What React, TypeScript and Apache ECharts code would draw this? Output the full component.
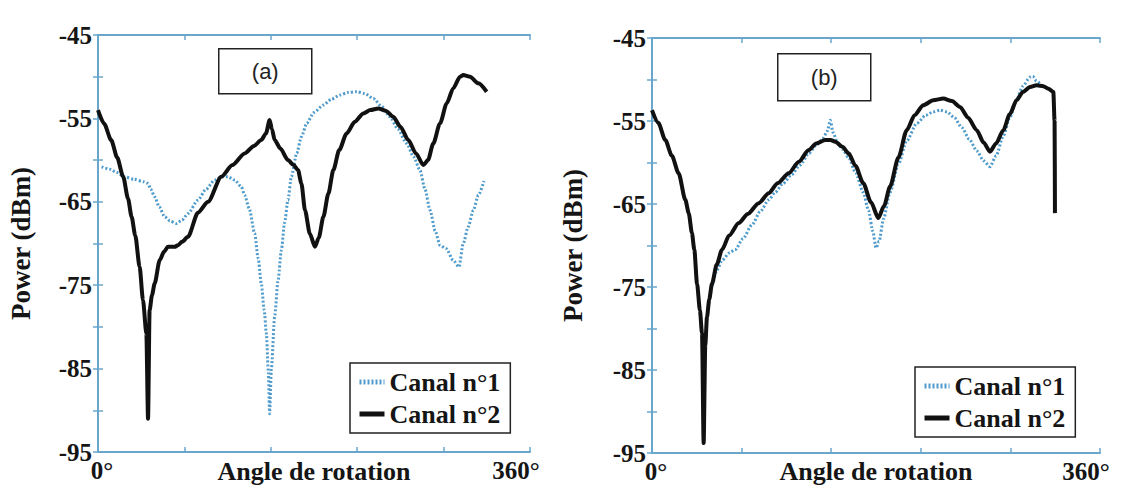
import React, { useEffect, useRef } from "react";
import * as echarts from "echarts";

// ---------- data ----------
const SERIES_NAMES = ["Canal n°1", "Canal n°2"];
const Y_TICKS_LABELLED = [-45, -55, -65, -75, -85, -95];
const X_LABELS = ["0°", "360°"];
const X_AXIS_NAME = "Angle de rotation";
const Y_AXIS_NAME = "Power (dBm)";
const PANEL_TAGS = ["(a)", "(b)"];

// Panel (a) – Canal n°2 (solid)
const aCh2Angle = [0, 5, 11, 16, 21, 25, 28, 31, 34.7, 37.5, 40.3, 41.7, 43, 45, 47.2, 51.4, 55, 58.3, 63.9, 66.7, 70, 75, 83.3, 91.7, 102.8, 112, 122.2, 130, 136, 140, 143, 145, 147.2, 152, 158.3, 163, 166.7, 169.5, 172.5, 176.5, 180.8, 184, 187.8, 192, 196.1, 201, 207.2, 214, 221.1, 227, 233.6, 240, 246.1, 252, 258.6, 265, 271.1, 275, 279.4, 285, 290.6, 296, 301.7, 304.4, 310, 317, 323.9];
const aCh2Power = [-54.0, -55.6, -57.6, -59.7, -62.0, -64.6, -66.8, -69.0, -72.8, -76.8, -80.8, -91.0, -78.0, -76.2, -74.8, -72.0, -71.0, -70.4, -70.4, -70.2, -69.8, -69.2, -66.3, -65.0, -62.0, -60.6, -59.2, -58.3, -57.6, -56.8, -55.2, -56.3, -57.6, -58.6, -60.0, -60.6, -61.2, -62.8, -66.0, -68.8, -70.4, -69.3, -66.8, -64.0, -61.2, -58.8, -56.8, -55.4, -54.4, -54.0, -53.8, -54.1, -54.8, -56.0, -57.6, -59.2, -60.6, -60.0, -58.0, -55.6, -53.2, -51.4, -50.0, -49.8, -50.0, -50.8, -51.8];

// Panel (a) – Canal n°1 (dotted)
const aCh1Angle = [3, 10, 16, 22, 30, 38, 41.7, 44, 47.2, 51, 55.6, 60, 65.3, 70, 75, 83.3, 90, 97.2, 103, 108.3, 114, 119.4, 122.2, 126, 130.6, 133.5, 136.1, 138.5, 140.3, 142, 143, 144.5, 147.2, 150, 152.8, 155.5, 158.3, 161.1, 165.6, 169.5, 173.9, 180, 187.8, 194.5, 201.7, 208, 215.6, 222, 229.4, 236, 243.3, 250, 257.2, 263, 268.3, 272.5, 276.7, 281, 285, 290, 296, 300.8, 304.4, 308.5, 312.8, 317, 321.6];
const aCh1Power = [-60.8, -61.1, -61.5, -62.0, -62.3, -62.6, -62.8, -63.5, -64.4, -65.6, -66.8, -67.3, -67.6, -67.2, -66.4, -64.8, -63.5, -62.4, -62.0, -62.0, -62.4, -63.2, -64.2, -65.8, -68.8, -71.8, -74.8, -78.0, -80.8, -85.5, -90.4, -85.0, -78.8, -74.5, -70.8, -67.5, -64.8, -62.0, -59.2, -57.2, -55.6, -54.3, -53.4, -52.7, -52.2, -51.9, -51.8, -52.0, -52.6, -53.5, -54.8, -56.3, -58.0, -59.6, -61.2, -63.5, -66.0, -68.5, -70.2, -70.6, -72.0, -72.8, -70.0, -68.0, -66.0, -64.2, -62.5];

// Panel (b) – Canal n°2 (solid)
const bCh2Angle = [0, 5, 10.7, 16, 21.4, 26.8, 29.5, 32.1, 34, 36.2, 38.5, 40.2, 41.5, 42.8, 44.2, 46, 48.2, 52, 56.3, 62, 69.7, 77, 85.7, 93.8, 101, 109.8, 118, 125.9, 132, 139.3, 143.5, 147.3, 153, 158, 163.5, 169.8, 176, 181.9, 186.5, 191.3, 198, 204.7, 211, 218, 226, 234.1, 241, 247.5, 254, 260.9, 266.5, 271.6, 276.5, 282.3, 287.5, 293, 298, 303.8, 309, 314.4, 318.5, 322.5, 323.5, 323.8];
const bCh2Power = [-53.7, -55.2, -57.3, -59.2, -61.3, -64.5, -66.1, -68.5, -70.5, -74.6, -77.8, -80.6, -93.8, -82.0, -78.6, -76.5, -74.6, -72.3, -70.5, -68.8, -67.3, -66.2, -64.9, -63.7, -62.5, -61.3, -59.9, -58.5, -57.7, -57.3, -57.3, -57.5, -58.1, -58.9, -60.4, -62.5, -64.8, -66.7, -65.2, -62.9, -59.4, -56.1, -54.3, -53.1, -52.5, -52.3, -52.6, -53.3, -54.6, -56.1, -57.6, -58.7, -57.7, -56.1, -54.2, -52.5, -51.5, -50.9, -50.7, -50.8, -51.1, -51.5, -55.0, -66.1];

// Panel (b) – Canal n°1 (dotted)
const bCh1Angle = [0, 5, 10.7, 16, 21.4, 26.8, 29.5, 32.1, 34, 36.2, 38.5, 40.2, 41.5, 42.8, 44.2, 46, 48.2, 52, 56.3, 62, 66.9, 73, 80.4, 87, 93.8, 99, 105, 112, 119, 126, 132, 137, 141, 143.3, 145.5, 149, 153, 158, 163.5, 169.8, 174, 177.5, 180, 182.5, 186, 191.3, 198, 204.7, 212.7, 220, 226, 231.4, 237, 243, 249, 255, 261, 266.5, 271.6, 276.5, 282.3, 287.5, 293, 298, 303.8, 306, 309, 314.4, 318.5, 322.5, 323.5, 323.8];
const bCh1Power = [-53.7, -55.2, -57.3, -59.2, -61.3, -64.5, -66.1, -68.5, -70.5, -74.6, -77.8, -80.6, -93.8, -82.0, -78.6, -76.6, -74.8, -73.0, -71.8, -70.9, -70.5, -69.2, -67.5, -65.9, -64.5, -63.6, -62.6, -61.5, -60.3, -58.9, -57.9, -57.2, -56.2, -54.9, -56.4, -57.6, -58.4, -59.4, -61.2, -63.6, -65.8, -68.3, -70.3, -69.5, -66.8, -63.6, -60.2, -57.4, -55.3, -54.3, -53.9, -53.7, -53.9, -54.6, -55.8, -57.2, -58.6, -59.8, -60.5, -59.2, -56.8, -54.6, -52.4, -50.8, -49.7, -49.6, -50.2, -50.8, -51.1, -51.5, -55.0, -66.1];

// ---------- styles ----------
const SERIF = '"Liberation Serif", "Times New Roman", serif';
const SANS = '"Liberation Sans", Arial, sans-serif';
const AXIS_COLOR = "#6aa6cc";
const DOT_COLOR = "#4f9bcb";
const SOLID_COLOR = "#111111";
const TEXT_COLOR = "#151515";

const zip = (xs: number[], ys: number[]) => xs.map((x, i) => [x, ys[i]]);

const grids = [
  { left: 98, top: 35, width: 432, height: 417, nameGap: 64 },
  { left: 652, top: 38, width: 448, height: 415, nameGap: 66 },
];

function buildAxes() {
  const xAxis: any[] = [];
  const yAxis: any[] = [];
  grids.forEach((g, gi) => {
    const tick = { show: true, inside: true, length: 5, lineStyle: { color: AXIS_COLOR, width: 1.5 } };
    const line = { show: true, lineStyle: { color: AXIS_COLOR, width: 2 } };
    const xNameGap = 458 - (g.top + g.height);
    xAxis.push({
      type: "value", gridIndex: gi, position: "bottom", min: 0, max: 360, interval: 72,
      axisLine: line, axisTick: tick, splitLine: { show: false },
      axisLabel: {
        show: true, margin: 6, showMinLabel: true, showMaxLabel: true,
        formatter: (v: number) => (v === 0 ? "{z|" + X_LABELS[0] + "}" : v === 360 ? "{m|" + X_LABELS[1] + "}" : ""),
        fontFamily: SERIF, fontWeight: "bold", fontSize: 25, color: TEXT_COLOR,
        rich: {
          z: { fontFamily: SERIF, fontWeight: "bold", fontSize: 25, color: TEXT_COLOR, padding: [0, 0, 0, 8] },
          m: { fontFamily: SERIF, fontWeight: "bold", fontSize: 25, color: TEXT_COLOR, padding: [0, 28, 0, 0] },
        },
      },
      name: X_AXIS_NAME, nameLocation: "middle", nameGap: xNameGap, nameMoveOverlap: false,
      nameTextStyle: { fontFamily: SERIF, fontWeight: "bold", fontSize: 26, color: TEXT_COLOR, verticalAlign: "top", lineHeight: 26 },
    });
    xAxis.push({
      type: "value", gridIndex: gi, position: "top", min: 0, max: 360, interval: 72,
      axisLine: line, axisTick: tick, axisLabel: { show: false }, splitLine: { show: false },
    });
    yAxis.push({
      type: "value", gridIndex: gi, position: "left", min: -95, max: -45, interval: 5,
      axisLine: line, axisTick: tick, splitLine: { show: false },
      axisLabel: {
        show: true, margin: 6,
        formatter: (v: number) => (Y_TICKS_LABELLED.indexOf(v) >= 0 ? String(v) : ""),
        fontFamily: SERIF, fontWeight: "bold", fontSize: 25, color: TEXT_COLOR,
      },
      name: Y_AXIS_NAME, nameLocation: "middle", nameGap: g.nameGap, nameRotate: 90, nameMoveOverlap: false,
      nameTextStyle: { fontFamily: SERIF, fontWeight: "bold", fontSize: 27, color: TEXT_COLOR },
    });
    yAxis.push({
      type: "value", gridIndex: gi, position: "right", min: -95, max: -45, interval: 5,
      axisLine: line, axisTick: tick, axisLabel: { show: false }, splitLine: { show: false },
    });
  });
  return { xAxis, yAxis };
}

function dotted(name: string, data: number[][], gi: number) {
  return {
    type: "line", name, data, xAxisIndex: gi * 2, yAxisIndex: gi * 2,
    symbol: "none", smooth: 0.25, smoothMonotone: "x", z: 2,
    lineStyle: { color: DOT_COLOR, width: 3, type: [2, 2] },
    itemStyle: { color: DOT_COLOR },
  };
}
function solid(name: string, data: number[][], gi: number) {
  return {
    type: "line", name, data, xAxisIndex: gi * 2, yAxisIndex: gi * 2,
    symbol: "none", smooth: 0.25, smoothMonotone: "x", z: 3,
    lineStyle: { color: SOLID_COLOR, width: 4 },
    itemStyle: { color: SOLID_COLOR },
  };
}

function legendAt(left: number, top: number) {
  return {
    left, top, orient: "vertical", data: SERIES_NAMES,
    backgroundColor: "#ffffff", borderColor: "#222222", borderWidth: 1.5, borderRadius: 0,
    padding: [4, 10, 4, 7], itemGap: 2, itemWidth: 25, itemHeight: 14,
    selectedMode: false,
    itemStyle: { opacity: 0, borderWidth: 0 },
    lineStyle: { width: 5 },
    textStyle: { fontFamily: SERIF, fontWeight: "bold", fontSize: 26, color: TEXT_COLOR, lineHeight: 30 },
  };
}

function tagBox(text: string, x: number, y: number, w: number, h: number) {
  return {
    type: "group", left: x, top: y,
    children: [
      { type: "rect", shape: { x: 0, y: 0, width: w, height: h }, style: { fill: "#ffffff", stroke: "#222222", lineWidth: 1.5 } },
      { type: "text", x: w / 2, y: h / 2, style: { text, fontFamily: SANS, fontSize: 22, fill: "#222222", align: "center", verticalAlign: "middle" } },
    ],
  };
}

export default function App() {
  const ref = useRef<HTMLDivElement>(null);
  useEffect(() => {
    document.body.style.margin = "0";
    const chart = echarts.init(ref.current!, null, { renderer: "svg" });
    const { xAxis, yAxis } = buildAxes();
    chart.setOption({
      animation: false,
      backgroundColor: "#ffffff",
      grid: grids.map((g) => ({
        left: g.left, top: g.top, width: g.width, height: g.height,
        containLabel: false, outerBoundsMode: "none",
      })),
      xAxis,
      yAxis,
      legend: [legendAt(350, 363), legendAt(915, 367)],
      series: [
        dotted(SERIES_NAMES[0], zip(aCh1Angle, aCh1Power), 0),
        solid(SERIES_NAMES[1], zip(aCh2Angle, aCh2Power), 0),
        dotted(SERIES_NAMES[0], zip(bCh1Angle, bCh1Power), 1),
        solid(SERIES_NAMES[1], zip(bCh2Angle, bCh2Power), 1),
      ],
      graphic: [tagBox(PANEL_TAGS[0], 218, 48, 93, 45), tagBox(PANEL_TAGS[1], 777, 53, 93, 47)],
    });
    return () => chart.dispose();
  }, []);
  return <div ref={ref} style={{ position: "absolute", left: 0, top: 0, width: 1123, height: 486 }} />;
}
